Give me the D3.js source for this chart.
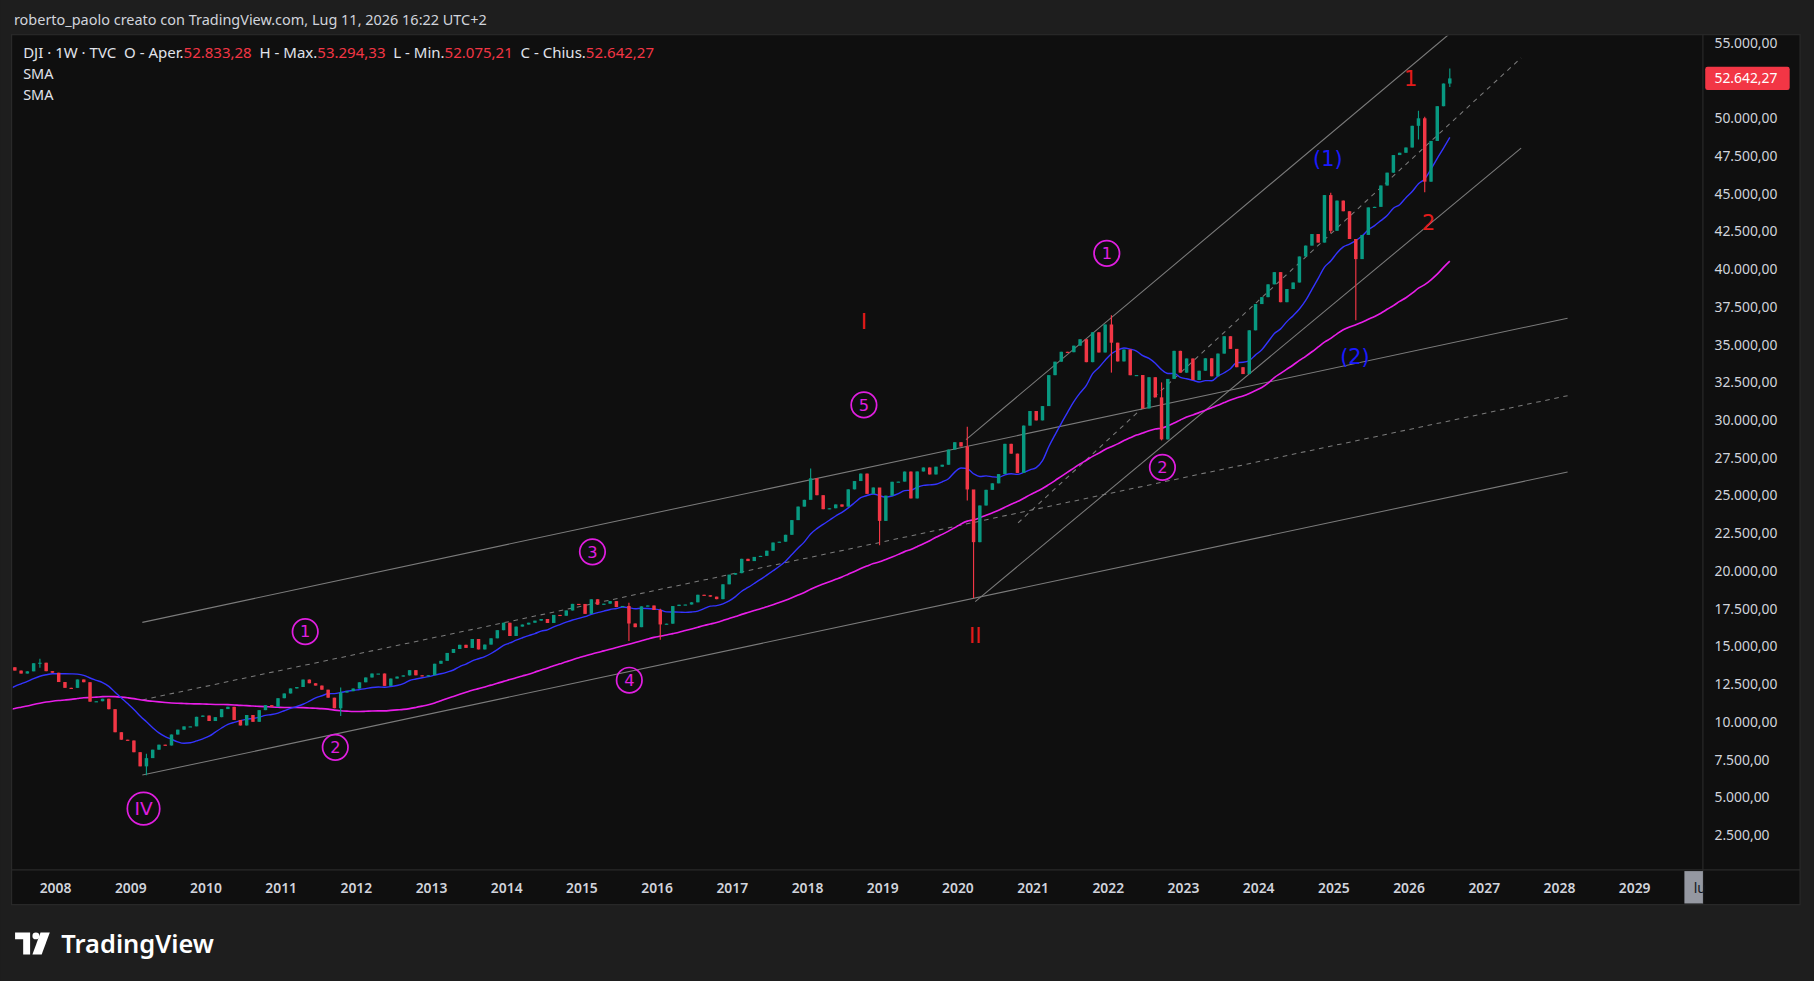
<!DOCTYPE html>
<html>
<head>
<meta charset="utf-8">
<script src="https://cdn.jsdelivr.net/npm/d3@7"></script>
<style>
  html, body { margin: 0; padding: 0; background: #1e1e1e; overflow: hidden; }
  svg { display: block; }
  text { font-family: "Noto Sans", "DejaVu Sans", sans-serif; }
</style>
</head>
<body>
<svg id="chart" width="1814" height="981" viewBox="0 0 1568 848"></svg>
<script>
// monthly closes, Jun 2003 .. Jul 2026
const startYear = 2003, startMonth = 5;
const closes = [
  8985, 9233, 9415, 9275, 9801, 9782, 10453,
  10488, 10583, 10357, 10225, 10188, 10435, 10140, 10173, 10080, 10027, 10428, 10783,
  10490, 10766, 10504, 10193, 10467, 10275, 10641, 10482, 10568, 10440, 10806, 10718,
  10865, 10993, 11109, 11367, 11168, 11150, 11186, 11381, 11679, 12081, 12221, 12463,
  12622, 12269, 12354, 13063, 13628, 13408, 13212, 13358, 13896, 13930, 13372, 13265,
  12650, 12266, 12263, 12820, 12638, 11350, 11378, 11544, 10851, 9325, 8829, 8776,
  8001, 7063, 7609, 8168, 8500, 8447, 9172, 9496, 9712, 9713, 10345, 10428,
  10067, 10325, 10857, 11009, 10137, 9774, 10466, 10015, 10788, 11118, 11006, 11578,
  11892, 12226, 12320, 12811, 12570, 12414, 12143, 11614, 10913, 11955, 12046, 12218,
  12633, 12952, 13212, 13214, 12393, 12880, 13009, 13091, 13437, 13096, 13026, 13104,
  13861, 14054, 14579, 14840, 15116, 14910, 15500, 14810, 15130, 15546, 16086, 16577,
  15699, 16322, 16458, 16581, 16717, 16827, 16563, 17098, 17043, 17391, 17828, 17823,
  17165, 18133, 17776, 17841, 18011, 17620, 17690, 16528, 16285, 17664, 17720, 17425,
  16466, 16517, 17685, 17774, 17787, 17930, 18432, 18401, 18308, 18142, 19124, 19763,
  19864, 20812, 20663, 20941, 21009, 21350, 21891, 21948, 22405, 23377, 24272, 24719,
  26149, 25029, 24103, 24163, 24416, 24271, 25415, 25965, 26458, 25116, 25538, 23327,
  24999, 25916, 25929, 26593, 24815, 26600, 26864, 26403, 26917, 27046, 28051, 28538,
  28256, 25409, 21917, 24346, 25383, 25813, 26428, 28430, 27782, 26502, 29638, 30606,
  29983, 30932, 32982, 33875, 34529, 34503, 34935, 35361, 33844, 35820, 34484, 36338,
  35132, 33893, 34678, 32977, 32990, 30775, 32845, 31510, 28726, 32733, 34590, 33147,
  34086, 32657, 33274, 34098, 32908, 34408, 35560, 34722, 33508, 33053, 35951, 37690,
  38150, 38996, 39807, 37816, 38686, 39119, 40843, 41563, 42330, 41763, 44911, 42544,
  44545, 43841, 42002, 40669, 42270, 44095, 44131, 45545, 46398, 47563, 47716, 48063,
  49500, 50000, 45800, 48500, 50800, 52300, 52642
];
// notable monthly extremes [year, month(0-based), high, low]
const extremes = [
  [2007, 9, 14198, 13600], [2009, 2, 7900, 6470], [2011, 9, 12280, 10400],
  [2015, 7, 17900, 15370], [2016, 0, 17500, 15450], [2018, 0, 26800, 24900],
  [2018, 11, 25300, 21712], [2020, 1, 29570, 24680], [2020, 2, 25300, 18213],
  [2022, 0, 36952, 33150], [2022, 8, 32500, 28660], [2024, 11, 45070, 42400],
  [2025, 3, 42000, 36612], [2026, 1, 50500, 48600], [2026, 2, 50100, 45100],
  [2026, 6, 53294, 52075]
];
const yTicks = [2500, 5000, 7500, 10000, 12500, 15000, 17500, 20000, 22500, 25000,
  27500, 30000, 32500, 35000, 37500, 40000, 42500, 45000, 47500, 50000, 55000];
const yearTicks = d3.range(2008, 2030);
// trend lines [year1, price1, year2, price2, dashed]
const trendLines = [
  [2009.154, 16602, 2028.108, 36758, false],
  [2009.154, 11467, 2028.108, 31623, true],
  [2009.154, 6485, 2028.108, 26565, false],
  [2020.108, 28711, 2026.523, 55535, false],
  [2020.8, 23193, 2027.49, 54002, true],
  [2020.23, 17981, 2027.49, 48024, false]
];
// wave labels [year, price, text, kind]
const waveLabels = [
  [2009.17, 4263, "IV", "circle"], [2011.32, 15989, "1", "circle"],
  [2011.72, 8325, "2", "circle"], [2015.14, 21277, "3", "circle"],
  [2015.63, 12770, "4", "circle"], [2018.75, 31010, "5", "circle"],
  [2018.75, 36528, "I", "red"], [2020.23, 15759, "II", "red"],
  [2021.98, 41050, "1", "circle"], [2022.72, 26872, "2", "circle"],
  [2024.92, 47334, "(1)", "blue"], [2025.28, 34229, "(2)", "blue"],
  [2026.02, 52622, "1", "red"], [2026.26, 43119, "2", "red"]
];
const lastPrice = 52642.27;

const plot = {left: 11, right: 1472, top: 31, bottom: 752};
const up = "#089981", down = "#f23645";
const it = d3.formatLocale({decimal: ",", thousands: ".", grouping: [3], currency: ["", ""]});
const fmt = it.format(",.2f");

const svg = d3.select("#chart");
const x = d3.scaleLinear().domain([2008, 2029]).range([48, 1413]);
const y = d3.scaleLinear().domain([2500, 55000]).range([722, 37]);

// data table
const extMap = new Map(extremes.map(e => [e[0] * 12 + e[1], e]));
const bars = closes.map((c, i) => {
  const mi = startYear * 12 + startMonth + i;
  const yr = Math.floor(mi / 12), m = mi % 12;
  const o = i > 0 ? closes[i - 1] : c;
  const e = extMap.get(mi);
  return {t: yr + (m + 0.5) / 12, o: o, c: c,
    h: e ? e[2] : Math.max(o, c), l: e ? e[3] : Math.min(o, c), i: i};
});
function sma(n) {
  return bars.filter(b => b.i >= n - 1).map(b => ({t: b.t,
    v: d3.mean(closes.slice(b.i - n + 1, b.i + 1))}));
}
const smaFast = sma(12), smaSlow = sma(48);

// backgrounds
svg.append("rect").attr("width", 1568).attr("height", 848).attr("fill", "#1e1e1e");
svg.append("rect").attr("x", 10).attr("y", 30).attr("width", 1546).attr("height", 752)
  .attr("fill", "#0f0f0f").attr("stroke", "#2a2a2a");
svg.append("line").attr("x1", plot.right).attr("x2", plot.right).attr("y1", 30).attr("y2", 782).attr("stroke", "#2a2a2a");
svg.append("line").attr("x1", 10).attr("x2", 1556).attr("y1", plot.bottom).attr("y2", plot.bottom).attr("stroke", "#2a2a2a");

svg.append("defs").append("clipPath").attr("id", "clip").append("rect")
  .attr("x", plot.left).attr("y", plot.top).attr("width", plot.right - plot.left).attr("height", plot.bottom - plot.top);
const g = svg.append("g").attr("clip-path", "url(#clip)");

// trend lines
g.selectAll(".trend").data(trendLines).enter().append("line")
  .attr("x1", d => x(d[0])).attr("y1", d => y(d[1]))
  .attr("x2", d => x(d[2])).attr("y2", d => y(d[3]))
  .attr("stroke", "#7b7b7b").attr("stroke-width", 0.9)
  .attr("stroke-dasharray", d => d[4] ? "4,4" : null);

// SMAs
const line = d3.line().x(d => x(d.t)).y(d => y(d.v)).curve(d3.curveMonotoneX);
g.append("path").datum(smaSlow).attr("d", line).attr("fill", "none").attr("stroke", "#e91ee9").attr("stroke-width", 1.4);
g.append("path").datum(smaFast).attr("d", line).attr("fill", "none").attr("stroke", "#3434ff").attr("stroke-width", 1.2);

// candles
const cg = g.selectAll(".c").data(bars).enter().append("g");
cg.append("line").attr("x1", d => x(d.t)).attr("x2", d => x(d.t))
  .attr("y1", d => y(d.h)).attr("y2", d => y(d.l))
  .attr("stroke", d => d.c >= d.o ? up : down);
cg.append("rect").attr("x", d => x(d.t) - 1.5).attr("width", 3)
  .attr("y", d => y(Math.max(d.o, d.c)))
  .attr("height", d => Math.max(1, Math.abs(y(d.o) - y(d.c))))
  .attr("fill", d => d.c >= d.o ? up : down);

// wave labels
const wl = g.selectAll(".w").data(waveLabels).enter().append("g")
  .attr("transform", d => `translate(${x(d[0])},${y(d[1])})`);
wl.filter(d => d[3] === "circle").append("circle")
  .attr("r", d => d[2] === "IV" ? 14 : 11).attr("fill", "none").attr("stroke", "#e01ee0").attr("stroke-width", 1.5);
wl.append("text").attr("text-anchor", "middle").attr("dy", "0.36em")
  .style("font-family", "'DejaVu Sans', sans-serif")
  .attr("font-size", d => d[3] === "circle" ? (d[2] === "IV" ? 16 : 14) : 18)
  .attr("fill", d => d[3] === "circle" ? "#e01ee0" : d[3] === "red" ? "#e31b1b" : "#1a1aff")
  .text(d => d[2]);

// price axis
svg.selectAll(".yt").data(yTicks).enter().append("text")
  .attr("x", 1482).attr("y", d => y(d)).attr("dy", "0.35em")
  .attr("font-size", 12).attr("fill", "#d1d4dc").text(d => fmt(d));
svg.append("rect").attr("x", 1474).attr("y", y(lastPrice) - 10).attr("width", 73).attr("height", 20)
  .attr("rx", 2).attr("fill", "#f23645");
svg.append("text").attr("x", 1482).attr("y", y(lastPrice)).attr("dy", "0.35em")
  .attr("font-size", 12).attr("fill", "#fff").text(fmt(lastPrice));

// time axis
svg.selectAll(".xt").data(yearTicks).enter().append("text")
  .attr("x", d => x(d)).attr("y", 768).attr("dy", "0.35em").attr("text-anchor", "middle")
  .attr("font-size", 12).attr("font-weight", 600).attr("fill", "#d1d4dc").text(d => d);
svg.append("rect").attr("x", 1456).attr("y", 753).attr("width", 16).attr("height", 28).attr("fill", "#9598a1");
svg.append("text").attr("x", 1464).attr("y", 768).attr("dy", "0.35em").attr("font-size", 12).attr("fill", "#131722").text("lu");

// header
svg.append("text").attr("x", 12).attr("y", 17).attr("dy", "0.35em").attr("font-size", 12.5)
  .attr("fill", "#d1d4dc").text("roberto_paolo creato con TradingView.com, Lug 11, 2026 16:22 UTC+2");
const legend = svg.append("text").attr("x", 20).attr("y", 46).attr("dy", "0.35em").attr("font-size", 13).attr("fill", "#e0e3eb")
  .attr("style", "white-space: pre");
const parts = [["DJI · 1W · TVC  O - Aper.", "#e0e3eb"], ["52.833,28", down], ["  H - Max.", "#e0e3eb"], ["53.294,33", down],
  ["  L - Min.", "#e0e3eb"], ["52.075,21", down], ["  C - Chius.", "#e0e3eb"], ["52.642,27", down]];
parts.forEach(p => legend.append("tspan").attr("fill", p[1]).text(p[0]));
["SMA", "SMA"].forEach((s, i) => svg.append("text").attr("x", 20).attr("y", 64 + i * 18).attr("dy", "0.35em")
  .attr("font-size", 12.5).attr("fill", "#e0e3eb").text(s));

// logo
const logo = svg.append("g").attr("transform", "translate(13,806)").attr("fill", "#ffffff");
logo.append("path").attr("d", "M0 0 H13 V19 H7 V6 H0 Z");
logo.append("circle").attr("cx", 18).attr("cy", 3).attr("r", 3);
logo.append("path").attr("d", "M22 0 H30 L23 19 H15 Z");
svg.append("text").attr("x", 53).attr("y", 816).attr("dy", "0.35em").attr("font-size", 22).attr("font-weight", 600)
  .attr("fill", "#ffffff").text("TradingView");
</script>
</body>
</html>
